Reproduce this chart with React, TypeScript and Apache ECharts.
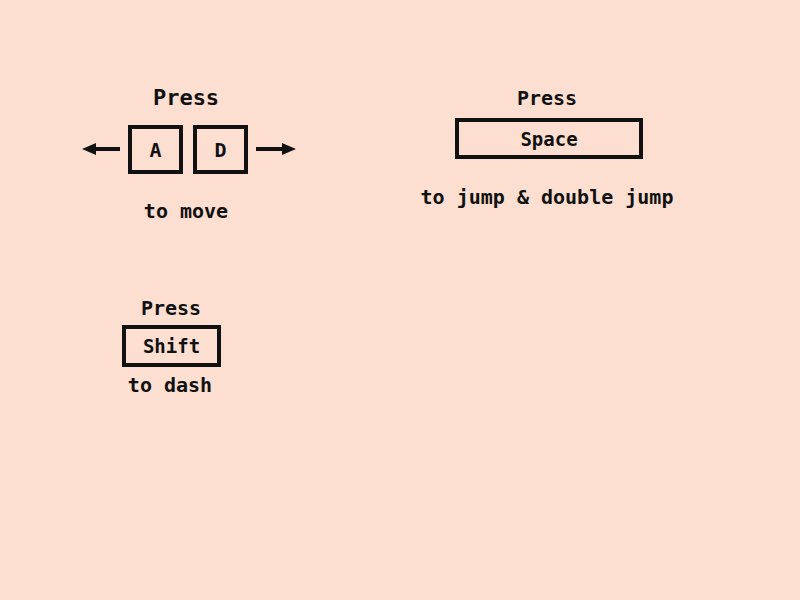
import React, { useEffect, useRef } from 'react';
import * as echarts from 'echarts';

const bg = '#FCDFD0';
const ink = '#111111';
const font = '"DejaVu Sans Mono", monospace';

// key boxes: label, x, y, w, h
const keyLabels = ['A', 'D', 'Space', 'Shift'];
const keyBoxes = [
  [130, 127, 51, 45],
  [195, 127, 51, 45],
  [457, 120, 184, 37],
  [124, 327, 95, 38],
];
// captions: text, x, y, size
const captions: [string, number, number, number][] = [
  ['Press', 186, 97, 22],
  ['to move', 186, 211, 20],
  ['Press', 547, 98, 20],
  ['to jump & double jump', 547, 197, 20],
  ['Press', 171, 308, 20],
  ['to dash', 170, 385, 20],
];

export default function App() {
  const ref = useRef<HTMLDivElement | null>(null);
  useEffect(() => {
    document.body.style.margin = '0';
    document.body.style.background = bg;
    if (!ref.current) return;
    const chart = echarts.init(ref.current, undefined, { renderer: 'svg' });
    const els: any[] = [];
    keyBoxes.forEach(([x, y, w, h], i) => {
      els.push({ type: 'rect', shape: { x, y, width: w, height: h }, style: { fill: 'transparent', stroke: ink, lineWidth: 4 } });
      els.push({
        type: 'text', x: x + w / 2, y: y + h / 2,
        style: { text: keyLabels[i], fill: ink, font: `bold ${i < 2 ? 20 : 19}px ${font}`, align: 'center', verticalAlign: 'middle' },
      });
    });
    captions.forEach(([t, x, y, s]) => {
      els.push({ type: 'text', x, y, style: { text: t, fill: ink, font: `bold ${s}px ${font}`, align: 'center', verticalAlign: 'middle' } });
    });
    // arrows
    els.push({ type: 'line', shape: { x1: 88, y1: 149, x2: 120, y2: 149 }, style: { stroke: ink, lineWidth: 4 } });
    els.push({ type: 'polygon', shape: { points: [[82, 149], [96, 143], [96, 155]] }, style: { fill: ink } });
    els.push({ type: 'line', shape: { x1: 256, y1: 149, x2: 290, y2: 149 }, style: { stroke: ink, lineWidth: 4 } });
    els.push({ type: 'polygon', shape: { points: [[296, 149], [282, 143], [282, 155]] }, style: { fill: ink } });
    chart.setOption({ animation: false, backgroundColor: bg, graphic: { elements: els } });
    return () => chart.dispose();
  }, []);
  return <div ref={ref} style={{ width: 800, height: 600 }} />;
}
